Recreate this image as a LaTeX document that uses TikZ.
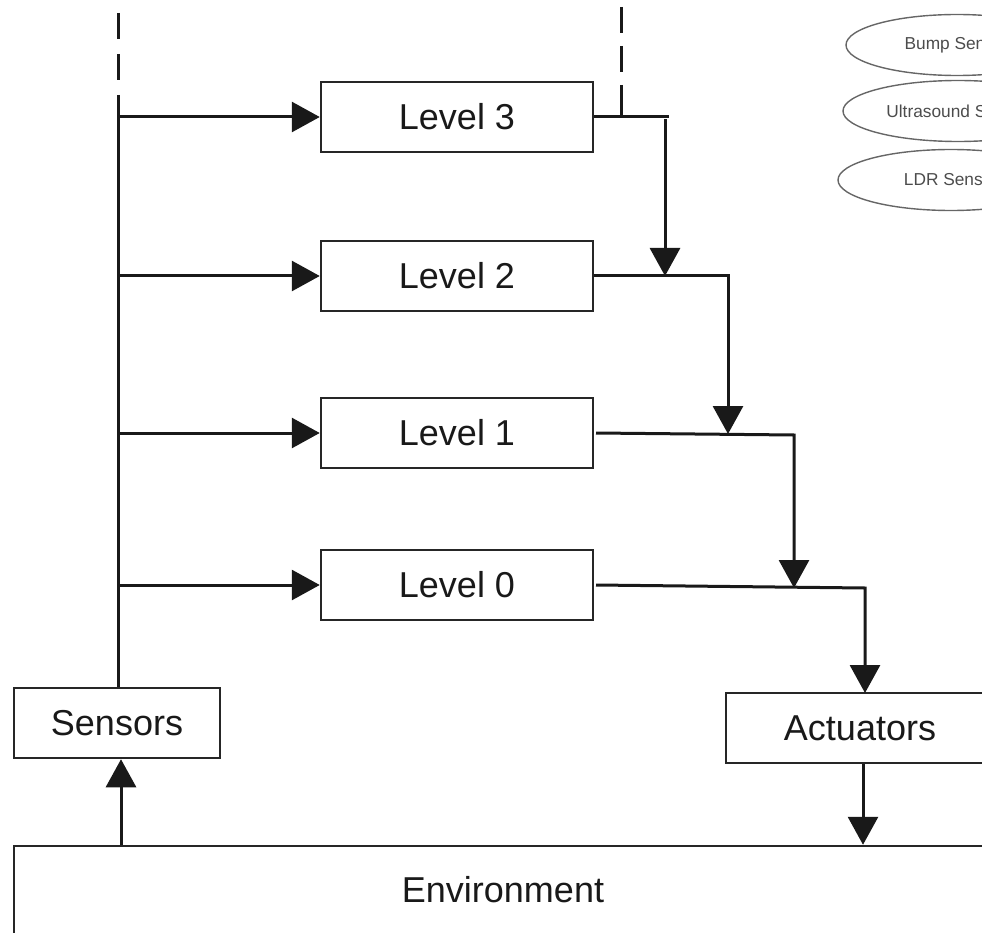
\documentclass[tikz,border=0pt]{standalone}
\usepackage{fontspec}
\setmainfont{Liberation Sans}
\usetikzlibrary{arrows.meta,shapes.geometric}
\begin{document}
\begin{tikzpicture}[x=1pt,y=-1pt,
  box/.style={draw=black!85, line width=2.5pt, rectangle, inner sep=0pt, font=\fontsize{36}{40}\selectfont, text=black!90},
  lvl/.style={box, minimum width=272pt, minimum height=70pt},
  conn/.style={line width=3pt, draw=black!90},
  arr/.style={conn, -{Triangle[length=28pt,width=30pt]}},
  dashline/.style={line width=3pt, draw=black!90, dash pattern=on 26pt off 15pt},
  sens/.style={ellipse, draw=black!60, line width=1.4pt, minimum height=61pt, inner sep=0pt, font=\fontsize{17.3}{19}\selectfont, text=black!70}]
\useasboundingbox (0,0) rectangle (982,933);
\clip (0,0) rectangle (982,933);

% sensor ellipses
\node[sens, minimum width=222pt] (bump) at (957,45) {Bump Sensor};
\node[sens, minimum width=230pt] (ultra) at (958,111) {Ultrasound Sensor};
\node[sens, minimum width=226pt] (ldr) at (951,180) {LDR Sensor};

% boxes
\node[lvl] (L3) at (457,117) {Level 3};
\node[lvl] (L2) at (457,276) {Level 2};
\node[lvl] (L1) at (457,433) {Level 1};
\node[lvl] (L0) at (457,585) {Level 0};
\node[box, minimum width=206pt, minimum height=70pt] (Sens) at (117,723) {Sensors};
\node[box, minimum width=268pt, minimum height=70pt] (Act) at (860,728) {Actuators};
\node[box, minimum width=978pt, minimum height=88pt] (Env) at (503,890) {Environment};

% helper coordinates
\coordinate (bustop) at (118,13);
\coordinate (busmid) at (118,95);
\coordinate (b3) at (118,117);
\coordinate (b2) at (118,276);
\coordinate (b1) at (118,433);
\coordinate (b0) at (118,585);
\coordinate (xs) at (121,0);
\coordinate (xa) at (863,0);
\coordinate (dtop) at (621,7);
\coordinate (dmid) at (621,85);
\coordinate (dbot) at (621,117);
\coordinate (t3) at (669,117);
\coordinate (j3) at (665,119);
\coordinate (e2) at (665,276);
\coordinate (c2) at (728,276);
\coordinate (e1) at (728,434);
\coordinate (s1) at (596,433);
\coordinate (c1) at (794,435);
\coordinate (e0) at (794,588);
\coordinate (s0) at (596,585);
\coordinate (c0) at (865,588);
\coordinate (ea) at (865,693);

% left bus
\draw[dashline] (bustop) -- (busmid);
\draw[conn] (busmid) -- (Sens.north -| busmid);
\draw[arr] (b3) -- (L3.west);
\draw[arr] (b2) -- (L2.west);
\draw[arr] (b1) -- (L1.west);
\draw[arr] (b0) -- (L0.west);

% right side
\draw[dashline, dash pattern=on 26pt off 13pt] (dtop) -- (dmid);
\draw[conn] (dmid) -- (dbot);
\draw[conn] (L3.east) -- (t3);
\draw[arr] (j3) -- (e2);
\draw[arr] (L2.east) -- (c2) -- (e1);
\draw[arr] (s1) -- (c1) -- (e0);
\draw[arr] (s0) -- (c0) -- (ea);

% sensors / actuators to environment
\draw[arr] (Env.north -| xs) -- (Sens.south -| xs);
\draw[arr] (Act.south -| xa) -- (Env.north -| xa);
\end{tikzpicture}
\end{document}
